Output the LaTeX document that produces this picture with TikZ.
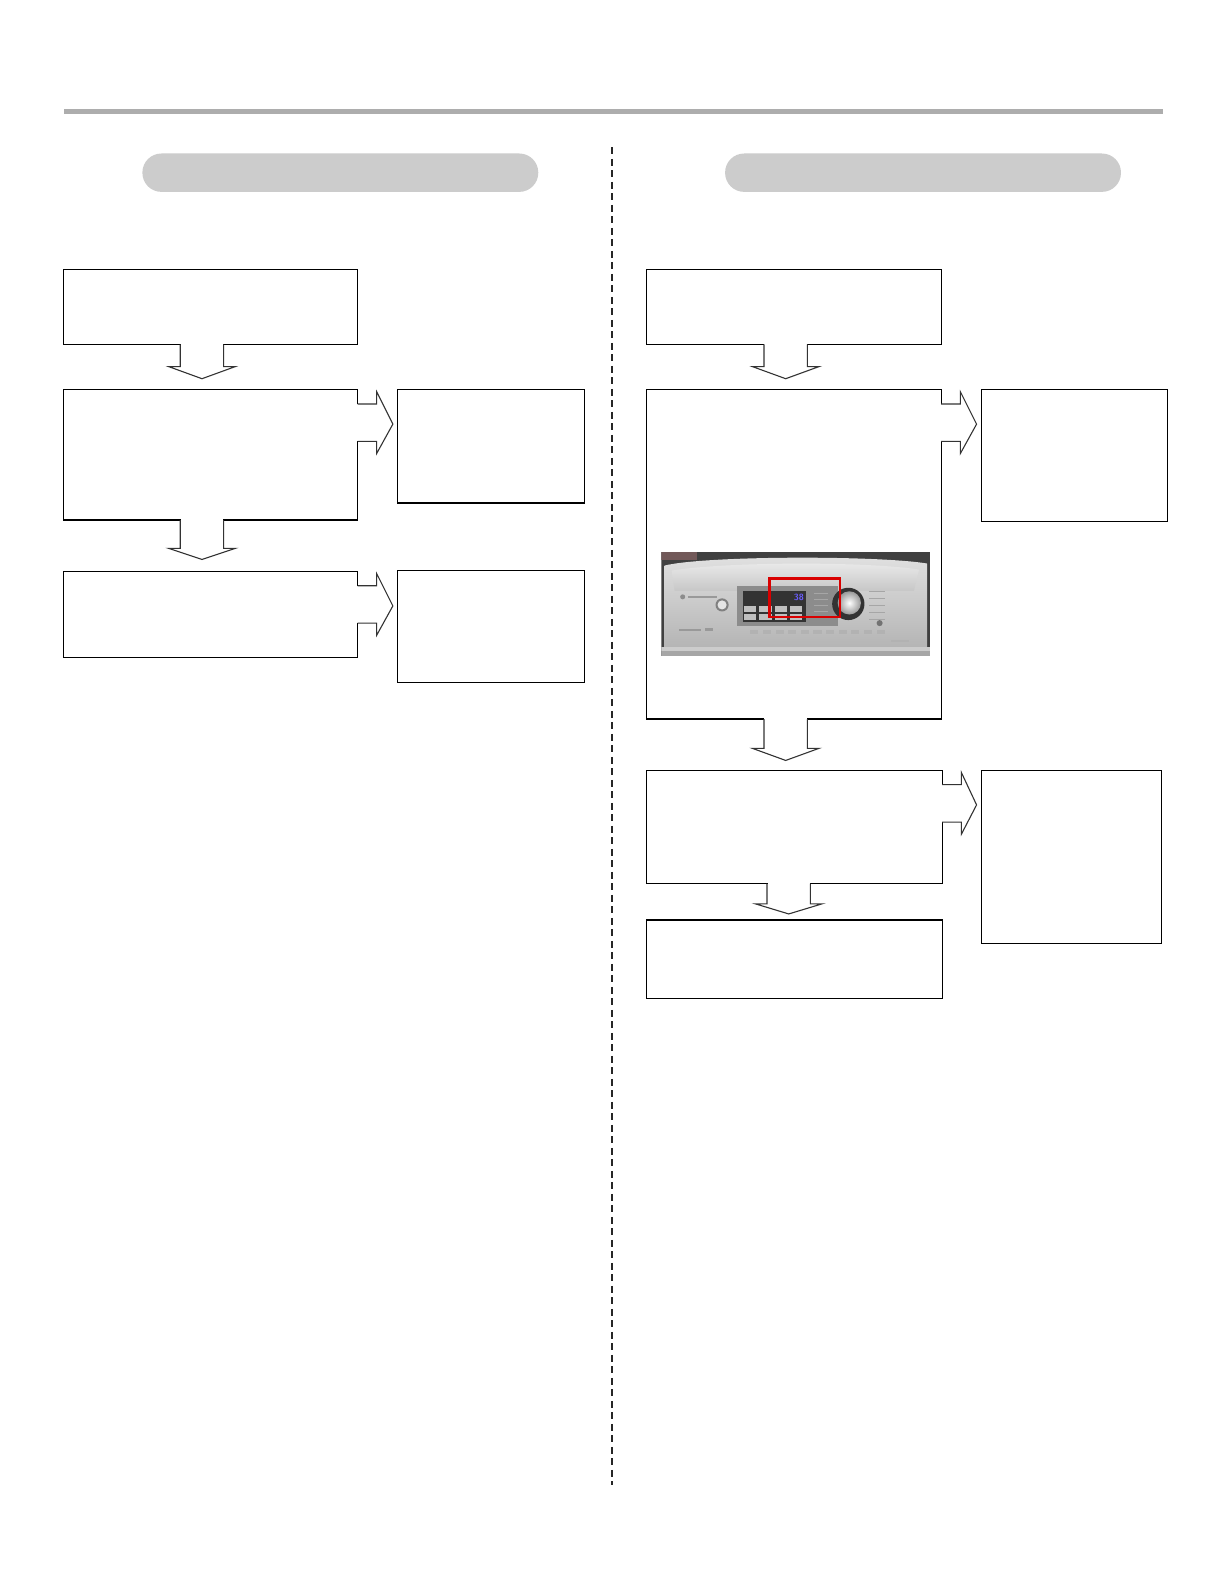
\documentclass[tikz,border=0pt]{standalone}
\usetikzlibrary{calc}
\definecolor{bargray}{HTML}{ADADAD}
\definecolor{pillgray}{HTML}{CCCCCC}
\definecolor{navy}{HTML}{1C1C84}
\definecolor{lcdblue}{HTML}{6A5CFF}
\newcommand\kf{1.0099}
\tikzset{
  box/.style={draw=black, line width=1.2pt, rectangle, inner sep=0pt, outer sep=0pt, fill=none},
  arr/.style={draw=black!80, line width=1.1pt, line join=miter},
  pill/.style={fill=pillgray, rounded corners=19pt, inner sep=0pt, outer sep=0pt, rectangle},
}
\newcommand\bx[5]{%
  \node[box, minimum width={(#4-#2)*\kf*1pt}, minimum height={(#5-#3)*\kf*1pt}] (#1) at ({(#2+#4)/2},{(#3+#5)/2}) {};}
% down arrow: #1 src, #2 dst, #3 center x, #4 tip gap, #5 head height
\newcommand\darr[5]{%
  \coordinate (dx) at (#3,0);
  \coordinate (ds) at (dx |- #1.south);
  \coordinate (dt) at ($(dx |- #2.north)+(0,-#4)$);
  \fill[white] ($(ds)+(-21,-2)$) rectangle ($(ds)+(21,2)$);
  \draw[arr] ($(ds)+(-21.5,0)$) -- ($(dt)+(-21.5,-#5)$) -- ($(dt)+(-33,-#5)$) -- (dt)
     -- ($(dt)+(33,-#5)$) -- ($(dt)+(21.5,-#5)$) -- ($(ds)+(21.5,0)$);}
% right arrow: #1 src, #2 dst
\newcommand\rarr[2]{%
  \coordinate (rc) at (#1.north east);
  \coordinate (rt) at ($(#2.west |- rc)+(-5,34)$);
  \fill[white] ($(rc)+(-2,14)$) rectangle ($(rc)+(2,51)$);
  \draw[arr] ($(rc)+(0,14)$) -- ($(rc)+(19,14)$) -- ($(rc)+(19,2)$) -- (rt)
     -- ($(rc)+(19,63)$) -- ($(rc)+(19,51)$) -- ($(rc)+(0,51)$);}
\begin{document}
\begin{tikzpicture}[x=\kf pt,y=-\kf pt]
\useasboundingbox[fill=white] (0,0) rectangle (1212,1568.5);
% header bar
\fill[bargray] (63,108) rectangle (1152,113);
% pills
\node[pill, minimum width={392*\kf*1pt}, minimum height={38*\kf*1pt}] (pillL) at (337,171) {};
\node[pill, minimum width={392*\kf*1pt}, minimum height={38*\kf*1pt}] (pillR) at (914,171) {};
% divider
\draw[black!85, line width=1.3pt, dash pattern=on 7pt off 4.5pt] (606,146) -- (606,1470);
% left column
\bx{A}{63}{267}{354}{341}
\bx{B}{63}{386}{354}{515}
\bx{C}{63}{566}{354}{651}
\bx{SB}{394}{386}{579}{498}
\bx{SC}{394}{565}{579}{676}
% right column
\bx{D}{640}{267}{932}{341}
\bx{E}{640}{386}{932}{712}
\bx{F}{640}{763}{933}{875}
\bx{G}{640}{911}{933}{989}
\bx{SE}{972}{386}{1156}{516}
\bx{SF}{972}{763}{1150}{934}
% arrows
\darr{A}{B}{200}{11}{12}
\darr{B}{C}{200}{12}{11}
\darr{D}{E}{778}{11}{12}
\darr{E}{F}{778}{10}{12}
\darr{F}{G}{781}{6}{10}
\rarr{B}{SB}
\rarr{C}{SC}
\rarr{E}{SE}
\rarr{F}{SF}
% photo of control panel
\begin{scope}
  \clip (655,547) rectangle (921,650);
  \fill[black!75] (655,547) rectangle (921,650);
  \fill[red!15!black!65] (655,547) rectangle (690,555);
  \shade[top color=black!12, bottom color=black!30] (658,560) .. controls (700,550) and (870,550) .. (918,558) -- (918,645) -- (658,645) -- cycle;
  \shade[top color=black!8, bottom color=black!22] (665,565) .. controls (720,556) and (860,556) .. (910,564) -- (905,585) -- (668,585) -- cycle;
  \fill[black!35] (655,645) rectangle (921,650);
  \fill[black!20] (655,641) rectangle (921,645);
  % display window
  \fill[black!45] (730,580) rectangle (830,620);
  \fill[black!80] (736,585) rectangle (798,616);
  \foreach \i in {0,1,2,3} {
    \fill[black!25] ({737+\i*15},600) rectangle ({749+\i*15},606);
    \fill[black!25] ({737+\i*15},608) rectangle ({749+\i*15},614);
  }
  \node[text=lcdblue, font=\sffamily\bfseries\small, inner sep=0pt] (lcd) at (791,592) {38};
  % knob
  \fill[black!80] (840,598) circle (16);
  \shade[inner color=white, outer color=black!40] (841,597) circle (11.5);
  % small round button
  \fill[black!50] (715,599) circle (6.5);
  \fill[black!10] (715,599) circle (4.5);
  % logo marks
  \fill[black!45] (676,591) circle (2.5);
  \fill[black!40] (681,590) rectangle (710,592);
  \fill[black!40] (672,623) rectangle (694,625);
  \fill[black!40] (698,622) rectangle (706,625);
  % side labels
  \foreach \j in {0,1,2,3,4} {
    \fill[black!35] (806,{587+\j*6}) rectangle (820,{588+\j*6});
    \fill[black!35] (860,{585+\j*7}) rectangle (876,{586+\j*7});
  }
  \fill[black!55] (871,617) circle (3);
  % bottom button row
  \foreach \k in {0,...,10} {
    \fill[black!30] ({743+\k*12.5},624) rectangle ({751+\k*12.5},628);
  }
  \fill[black!30] (882,634) rectangle (900,636);
  % red highlight
  \draw[red!85!black, line width=2.4pt] (762,573) rectangle (832,611);
\end{scope}
% bottom link line
\draw[navy, line width=1.5pt] (127,1576) -- (267,1576);
\end{tikzpicture}
\end{document}
